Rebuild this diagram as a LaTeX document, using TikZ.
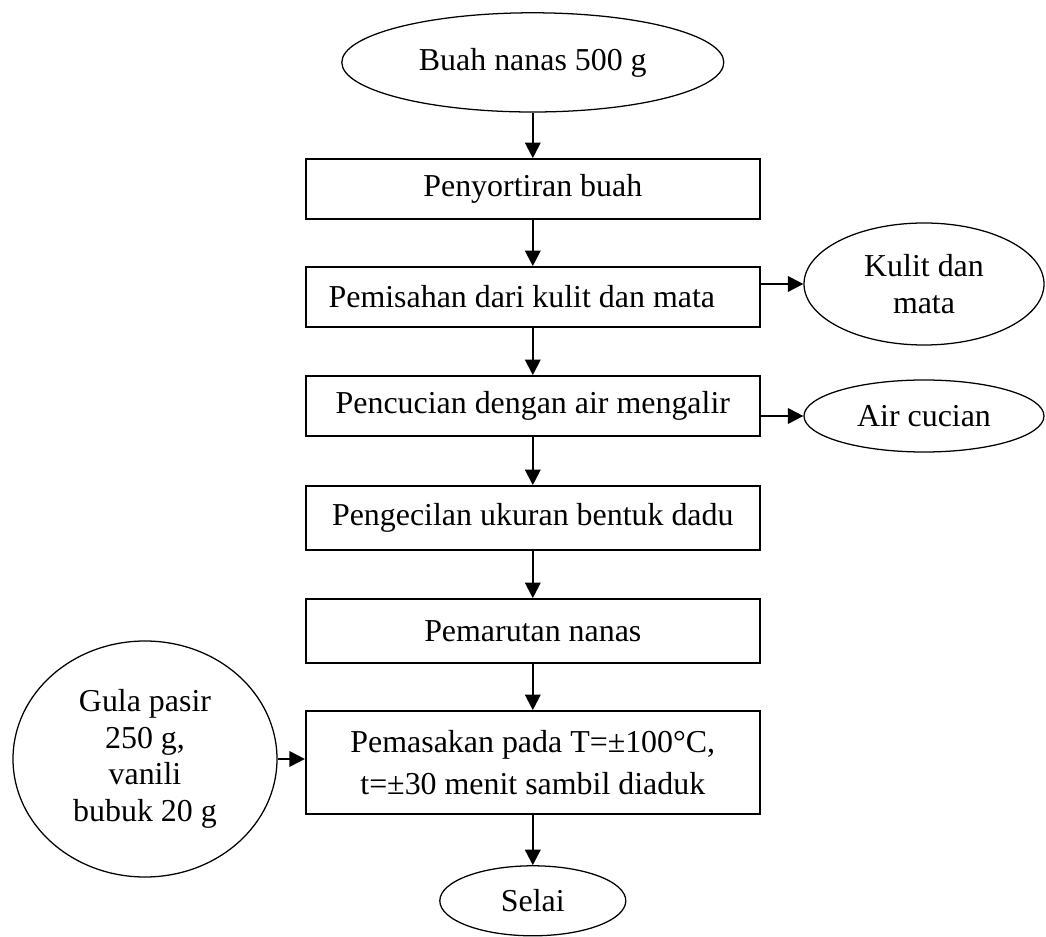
\documentclass[tikz,border=0pt]{standalone}
\usepackage{fontspec}
\setmainfont{Liberation Serif}
\usetikzlibrary{shapes,arrows.meta,positioning}

\tikzset{
	proses/.style={draw, line width=1.3pt, minimum width=11.35cm, inner sep=0pt},
	bahan/.style={draw, ellipse, line width=0.9pt, inner sep=0pt, align=center},
	panah/.style={->, line width=1.5pt}
}

\begin{document}
\begin{tikzpicture}[>={Triangle[length=11pt,width=11pt]}, font=\fontsize{22.7}{26}\selectfont]
			\useasboundingbox (0,0) rectangle (26.15,23.4);
			\node[bahan, minimum width=9.55cm, minimum height=2.48cm] (buah) at (13.32,21.84) {Buah nanas 500 g};
			\node[proses, minimum height=1.5cm] (sortir) at (13.32,18.675) {Penyortiran buah};
			\node[proses, minimum height=1.5cm] (pisah) at (13.32,15.975) {Pemisahan dari kulit dan mata\hspace*{0.55cm}};
			\node[proses, minimum height=1.5cm] (cuci) at (13.32,13.25) {Pencucian dengan air mengalir};
			\node[proses, minimum height=1.6cm] (kecil) at (13.32,10.45) {Pengecilan ukuran bentuk dadu};
			\node[proses, minimum height=1.6cm] (parut) at (13.32,7.625) {Pemarutan nanas};
			\node[proses, minimum height=2.575cm, align=center, font=\fontsize{22.7}{30}\selectfont] (masak) at (13.32,4.3375) {Pemasakan pada T=±100°C,\\ t=±30 menit sambil diaduk};
			\node[bahan, minimum width=4.65cm, minimum height=1.75cm] (selai) at (13.32,0.88) {Selai};
			\node[bahan, minimum width=6cm, minimum height=3.05cm] (kulit) at (23.1,16.3) {Kulit dan\\ mata};
			\node[bahan, minimum width=6cm, minimum height=1.8cm] (air) at (23.1,13.0) {Air cucian};
			\node[bahan, minimum width=6.6cm, minimum height=5.9cm] (gula) at (3.625,4.425) {Gula pasir\\ 250 g,\\ vanili\\ bubuk 20 g};
			\draw[panah] (buah.south) -- (sortir.north);
			\draw[panah] (sortir.south) -- (pisah.north);
			\draw[panah] (pisah.south) -- (cuci.north);
			\draw[panah] (cuci.south) -- (kecil.north);
			\draw[panah] (kecil.south) -- (parut.north);
			\draw[panah] (parut.south) -- (masak.north);
			\draw[panah] (masak.south) -- (selai.north);
			\draw[panah] (pisah.east |- kulit.west) -- (kulit.west);
			\draw[panah] (cuci.east |- air.west) -- (air.west);
			\draw[panah] (gula.east) -- (gula.east -| masak.west);
		\end{tikzpicture}
\end{document}
